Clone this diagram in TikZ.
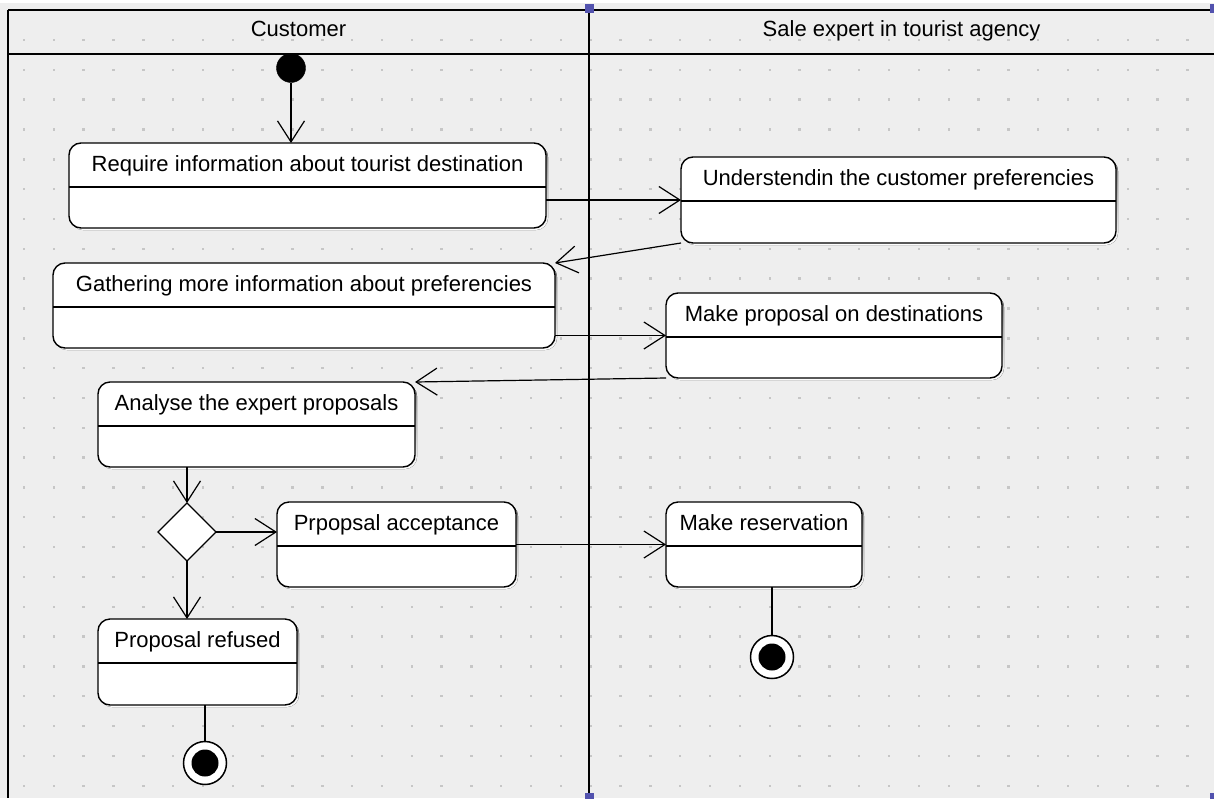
\documentclass[tikz,border=0pt]{standalone}
\usepackage{fontspec}
\setmainfont{Liberation Sans}
\usetikzlibrary{arrows.meta,shapes.geometric,calc}
\definecolor{bg}{HTML}{EEEEEE}
\definecolor{dotc}{HTML}{C6C6C6}
\definecolor{handle}{HTML}{5252AE}
\definecolor{shade}{HTML}{A0A0A0}
\tikzset{
  actbox/.style={draw=black, line width=1.4pt, fill=white, rounded corners=12pt, inner sep=0pt, outer sep=0pt},
  acttext/.style={anchor=base, inner sep=0pt, font=\fontsize{22}{26}\selectfont},
  lanetext/.style={anchor=base, inner sep=0pt, font=\fontsize{22}{26}\selectfont},
  laneline/.style={line width=1.5pt, draw=black},
  flow/.style={line width=1.2pt, -{Straight Barb[length=21pt,width=27pt]}},
  plainflow/.style={line width=1.2pt},
  initnode/.style={circle, fill=black, draw=black, minimum size=29pt, inner sep=0pt, outer sep=0pt},
  finalouter/.style={circle, fill=white, draw=black, line width=1.5pt, minimum size=43pt, inner sep=0pt, outer sep=0pt},
  finalinner/.style={circle, fill=black, minimum size=27pt, inner sep=0pt},
  decision/.style={diamond, draw=black, fill=white, line width=1.2pt, minimum width=58pt, minimum height=58pt, inner sep=0pt, outer sep=0pt},
}
\newcommand\actbox[6]{%
  \fill[shade, rounded corners=12pt] ({#2+2},{#3+2}) rectangle ({#4+2},{#5+2});
  \node[actbox, minimum width={#4-#2}, minimum height={#5-#3}] (#1) at ({(#2+#4)/2},{(#3+#5)/2}) {};
  \coordinate (#1-d) at (0,{#3+44});
  \draw[line width=1.4pt] (#1.west |- #1-d) -- (#1.east |- #1-d);
  \node[acttext] (#1-t) at ({(#2+#4)/2},{#3+28}) {#6};
}
\begin{document}
\begin{tikzpicture}[x=1pt,y=-1pt]
\useasboundingbox (0,0) rectangle (1214,798);
\fill[white] (0,0) rectangle (1214,798);
\fill[bg] (0,3) rectangle (1214,798);
% grid dots
\foreach \i in {0,...,40} {
  \foreach \j in {0,...,26} {
    \fill[dotc] ({24+29.83*\i-1.2},{40+29.83*\j-1.2}) rectangle ++(2.4,2.4);
  }
}
% swimlanes
\draw[laneline] (8,10) -- (1214,10);
\draw[laneline] (8,54) -- (1214,54);
\draw[laneline] (8,10) -- (8,798);
\draw[laneline] (589,10) -- (589,798);
\node[lanetext] (lane1) at (298.5,36) {Customer};
\node[lanetext] (lane2) at (901.5,36) {Sale expert in tourist agency};
\fill[handle] (584.5,4) rectangle (593.5,13);
\fill[handle] (1209.5,4) rectangle (1218.5,13);
\fill[handle] (584.5,793) rectangle (593.5,802);
\fill[handle] (1209.5,793) rectangle (1218.5,802);
% activities
\actbox{b1}{69}{143}{546}{228}{Require information about tourist destination}
\actbox{b2}{681}{157}{1116}{243}{Understendin the customer preferencies}
\actbox{b3}{53}{263}{555}{348}{Gathering more information about preferencies}
\actbox{b4}{666}{293}{1002}{378}{Make proposal on destinations}
\actbox{b5}{98}{382}{415}{467}{Analyse the expert proposals}
\actbox{b6}{277}{502}{516}{587}{Prpopsal acceptance}
\actbox{b7}{666}{502}{862}{587}{Make reservation}
\actbox{b8}{98}{619}{297}{705}{Proposal refused}
% control nodes
\node[initnode] (init) at (291,68) {};
\node[decision] (dec) at (187,532) {};
\node[finalouter] (f1) at (205,763) {};
\node[finalinner] (f1in) at (205,763) {};
\node[finalouter] (f2) at (772,657) {};
\node[finalinner] (f2in) at (772,657) {};
% flows
\draw[flow] (init.south) -- (b1.north -| init.south);
\draw[flow] (b1.east |- b2.west) -- (b2.west);
\draw[flow] (b2.south west) -- (b3.north east);
\draw[flow] (b3.east |- b4.west) -- (b4.west);
\draw[flow] (b4.south west) -- (b5.north east);
\draw[flow] (b5.south -| dec.north) -- (dec.north);
\draw[flow] (dec.east) -- (b6.west |- dec.east);
\draw[flow] (dec.south) -- (b8.north -| dec.south);
\draw[flow] (b6.east |- b7.west) -- (b7.west);
\draw[plainflow] (b7.south -| f2.north) -- (f2.north);
\draw[plainflow] (b8.south -| f1.north) -- (f1.north);
\end{tikzpicture}
\end{document}
